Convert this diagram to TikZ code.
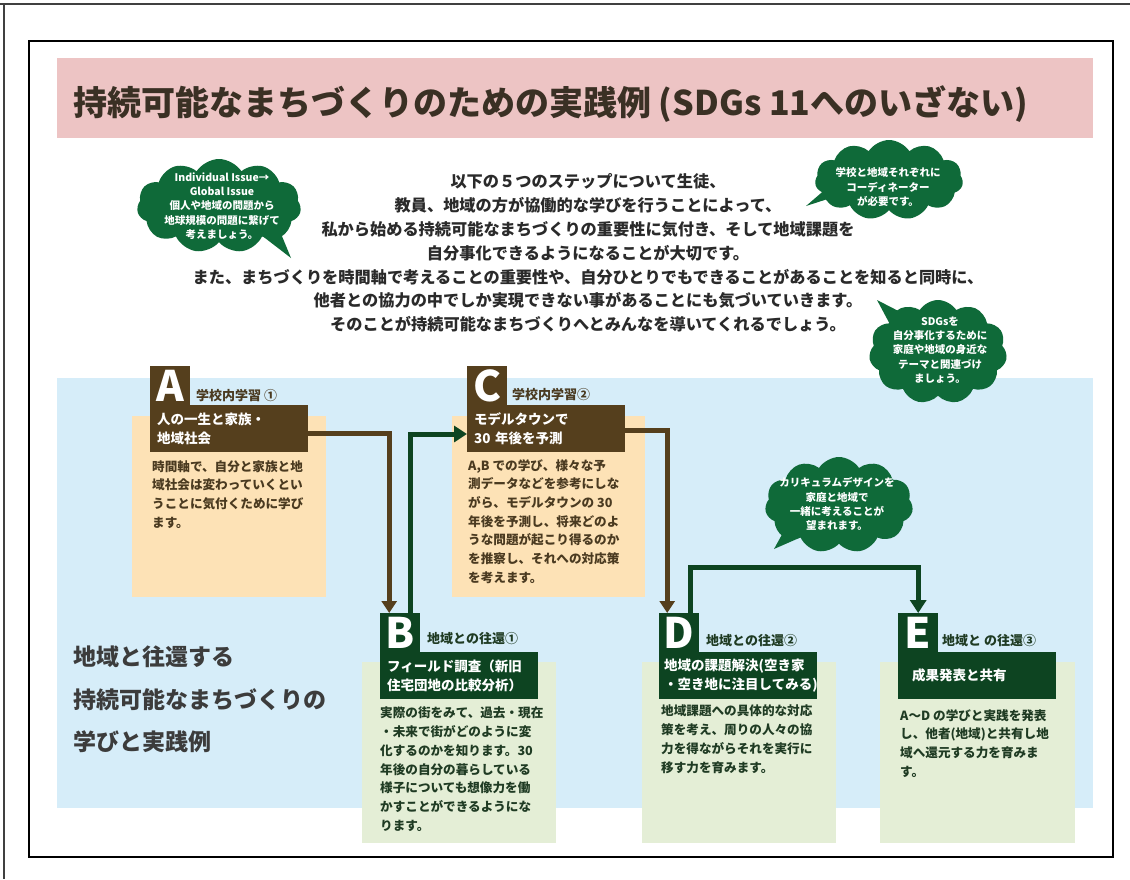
\documentclass[tikz,border=0pt]{standalone}
\usepackage{fontspec}
\setmainfont{Noto Sans CJK JP}
\usetikzlibrary{arrows.meta,shapes.symbols}
\definecolor{pinkband}{HTML}{EDC4C4}
\definecolor{skyback}{HTML}{D6EDF9}
\definecolor{orangebox}{HTML}{FDE2B6}
\definecolor{greenbox}{HTML}{E4EED6}
\definecolor{brownhead}{HTML}{553F1D}
\definecolor{greenhead}{HTML}{0D4421}
\definecolor{bubblegreen}{HTML}{0F6A39}
\definecolor{titletext}{HTML}{3A3024}
\definecolor{browntext}{HTML}{4A3A20}
\definecolor{greentext}{HTML}{1F3B23}
\definecolor{maintext}{HTML}{2A2A2A}
\definecolor{sidetext}{HTML}{3C3C3C}
\begin{document}
\begin{tikzpicture}[x=1pt,y=-1pt,
  tabbox/.style={fill=#1, inner sep=0pt, minimum width=40pt, minimum height=40pt, anchor=north west, text=white, font=\fontsize{42}{42}\selectfont\bfseries},
  headbar/.style={fill=#1, inner xsep=7pt, inner ysep=0pt, minimum height=47pt, text width=144pt, align=left, anchor=north west, text=white, font=\fontsize{13.5}{19}\selectfont\bfseries},
  stagelabel/.style={anchor=west, inner sep=0pt, text=#1, font=\fontsize{13}{13}\selectfont\bfseries},
  bodytext/.style={anchor=north west, inner sep=0pt, align=left, text=#1, font=\fontsize{12.6}{18.7}\selectfont\bfseries},
  bubble/.style={cloud, cloud puffs=11, cloud puff arc=115, cloud ignores aspect, fill=bubblegreen, draw=none, inner sep=0pt},
  bubbletext/.style={align=center, text=white, inner sep=0pt, font=\fontsize{10.5}{14.2}\selectfont\bfseries},
  brownarrow/.style={draw=brownhead, line width=5pt, -{Triangle[width=15pt,length=12pt]}},
  greenarrow/.style={draw=greenhead, line width=5pt, -{Triangle[width=16pt,length=13pt]}}
]
\useasboundingbox (0,0) rectangle (1130,879);
\fill[white] (0,0) rectangle (1130,879);
% outer frame lines
\draw[line width=1.5pt, black!75] (0,4) -- (1130,4);
\draw[line width=1.5pt, black!75] (4,4) -- (4,879);
\draw[line width=2pt, black] (29,41) rectangle (1113,857);
% title band
\fill[pinkband] (57,58) rectangle (1093,138);
\node[anchor=west, inner sep=0pt, text=titletext, font=\fontsize{34}{34}\selectfont\bfseries] (title) at (73,104) {持続可能なまちづくりのための実践例 (SDGs 11へのいざない)};
% light blue area
\fill[skyback] (57,378) rectangle (1093,808);
% intro text
\node[align=center, inner sep=0pt, text=maintext, font=\fontsize{16.2}{23.8}\selectfont\bfseries] (intro) at (588,253) {以下の５つのステップについて生徒、\\教員、地域の方が協働的な学びを行うことによって、\\私から始める持続可能なまちづくりの重要性に気付き、そして地域課題を\\自分事化できるようになることが大切です。\\また、まちづくりを時間軸で考えることの重要性や、自分ひとりでもできることがあることを知ると同時に、\\他者との協力の中でしか実現できない事があることにも気づいていきます。\\そのことが持続可能なまちづくりへとみんなを導いてくれるでしょう。};
% bubbles
\node[bubble, minimum width=164pt, minimum height=94pt] (cloud1) at (219,206) {};
\fill[bubblegreen] (252,228) -- (291,258) -- (272,212) -- cycle;
\node[bubbletext] (cloudtext1) at (222,206) {Individual Issue→\\Global Issue\\個人や地域の問題から\\地球規模の問題に繋げて\\考えましょう。};
\node[bubble, minimum width=148pt, minimum height=80pt] (cloud2) at (889,180) {};
\fill[bubblegreen] (840,195) -- (806,206) -- (842,175) -- cycle;
\node[bubbletext] (cloudtext2) at (888,187) {学校と地域それぞれに\\コーディネーター\\が必要です。};
\node[bubble, minimum width=138pt, minimum height=104pt] (cloud3) at (938,352) {};
\fill[bubblegreen] (893,330) -- (877,300) -- (912,318) -- cycle;
\node[bubbletext] (cloudtext3) at (940,350) {SDGsを\\自分事化するために\\家庭や地域の身近な\\テーマと関連づけ\\ましょう。};
\node[bubble, minimum width=148pt, minimum height=96pt] (cloud4) at (839,505) {};
\fill[bubblegreen] (790,520) -- (774,549) -- (806,535) -- cycle;
\node[bubbletext] (cloudtext4) at (837,504) {カリキュラムデザインを\\家庭と地域で\\一緒に考えることが\\望まれます。};
% side text
\node[anchor=north west, inner sep=0pt, align=left, text=sidetext, font=\fontsize{23}{42.5}\selectfont\bfseries] (side) at (73,646) {地域と往還する\\持続可能なまちづくりの\\学びと実践例};
% boxes
\fill[orangebox] (132,416) rectangle (326,597);
\fill[orangebox] (452,416) rectangle (645,597);
\fill[greenbox] (362,662) rectangle (556,843);
\fill[greenbox] (642,662) rectangle (836,843);
\fill[greenbox] (880,662) rectangle (1075,843);
% headers
\node[tabbox=brownhead] (tabA) at (150,366) {A};
\node[headbar=brownhead] (headA) at (150,405) {人の一生と家族・\\地域社会};
\node[tabbox=brownhead] (tabC) at (467,366) {C};
\node[headbar=brownhead] (headC) at (467,405) {モデルタウンで\\30 年後を予測};
\node[tabbox=greenhead] (tabB) at (380,613) {B};
\node[headbar=greenhead] (headB) at (380,652) {フィールド調査（新旧\\住宅団地の比較分析）};
\node[tabbox=greenhead] (tabD) at (659,613) {D};
\node[headbar=greenhead, inner xsep=5pt, text width=148pt] (headD) at (659,652) {地域の課題解決(空き家\\・空き地に注目してみる)};
\node[tabbox=greenhead] (tabE) at (898,613) {E};
\node[headbar=greenhead, inner xsep=14pt, text width=130pt] (headE) at (898,652) {成果発表と共有};
% arrows
\draw[brownarrow] (headA.east |- 0,433) -| ([xshift=-11pt]tabB.north);
\draw[greenarrow] ([xshift=10pt]tabB.north) |- (headC.west |- 0,434);
\draw[brownarrow] (headC.east |- 0,430) -| ([xshift=-12pt]tabD.north);
\draw[greenarrow] ([xshift=11pt]tabD.north) -- ++(0,-46) -| (tabE.north);
% labels
\node[stagelabel=browntext] (labA) at (196,396) {学校内学習 ①};
\node[stagelabel=browntext] (labC) at (512,395) {学校内学習②};
\node[stagelabel=greentext] (labB) at (427,639) {地域との往還①};
\node[stagelabel=greentext] (labD) at (706,641) {地域との往還②};
\node[stagelabel=greentext] (labE) at (942,641) {地域と の往還③};
% body texts
\node[bodytext=browntext] (bodyA) at (152,460) {時間軸で、自分と家族と地\\域社会は変わっていくとい\\うことに気付くために学び\\ます。};
\node[bodytext=browntext] (bodyC) at (468,459) {A,B での学び、様々な予\\測データなどを参考にしな\\がら、モデルタウンの 30\\年後を予測し、将来どのよ\\うな問題が起こり得るのか\\を推察し、それへの対応策\\を考えます。};
\node[bodytext=greentext] (bodyB) at (380,707) {実際の街をみて、過去・現在\\・未来で街がどのように変\\化するのかを知ります。30\\年後の自分の暮らしている\\様子についても想像力を働\\かすことができるようにな\\ります。};
\node[bodytext=greentext] (bodyD) at (661,705) {地域課題への具体的な対応\\策を考え、周りの人々の協\\力を得ながらそれを実行に\\移す力を育みます。};
\node[bodytext=greentext] (bodyE) at (900,709) {A～D の学びと実践を発表\\し、他者(地域)と共有し地\\域へ還元する力を育みま\\す。};
\end{tikzpicture}
\end{document}
